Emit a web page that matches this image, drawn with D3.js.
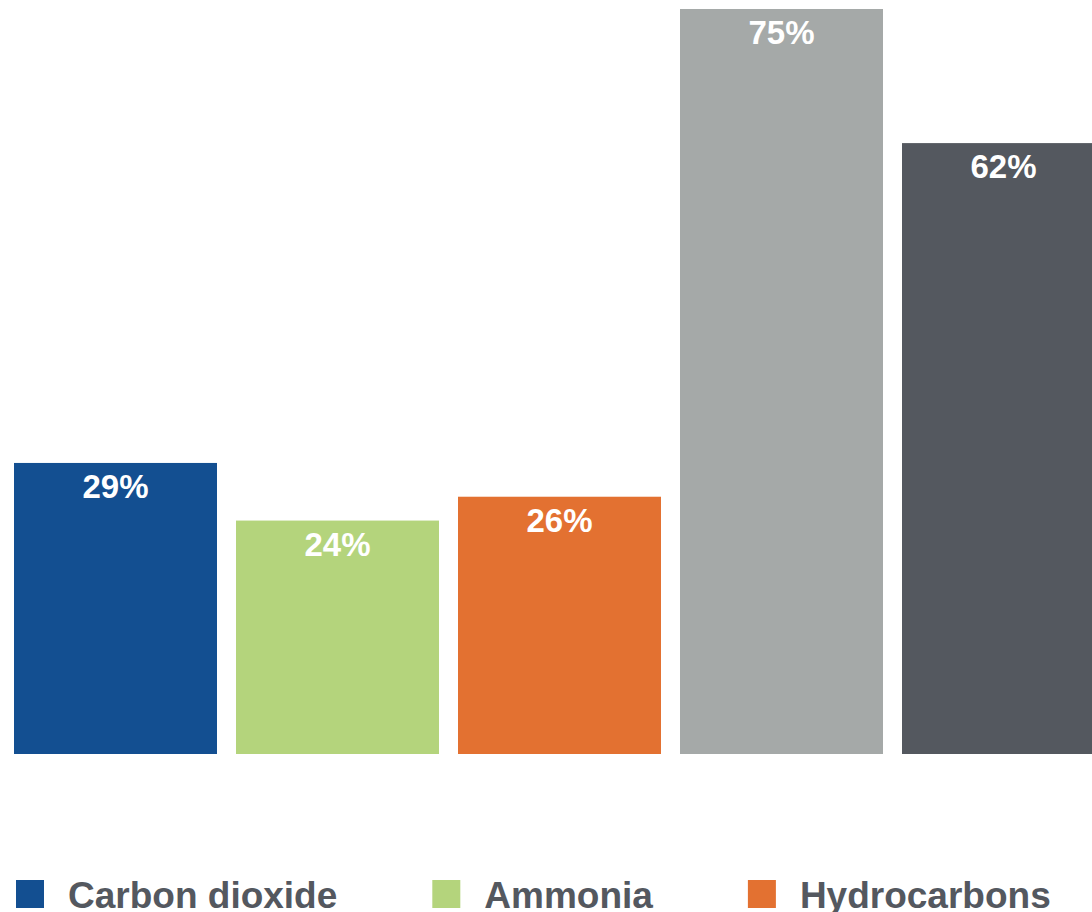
<!DOCTYPE html>
<html>
<head>
<meta charset="utf-8">
<script src="https://cdn.jsdelivr.net/npm/d3@7"></script>
<style>
  body { margin: 0; background: #fff; }
  svg { display: block; font-family: "Liberation Sans", Arial, sans-serif; }
</style>
</head>
<body>
<svg id="graph"></svg>
<script>
const categories = ['Carbon dioxide', 'Ammonia', 'Hydrocarbons', 'Other A', 'Other B'];
const values = [29.3, 23.5, 25.9, 75, 61.5];
const labels = ['29%', '24%', '26%', '75%', '62%'];
const colors = ['#134f91', '#b4d47c', '#e37131', '#a5a9a8', '#54585f'];
const legendItems = ['Carbon dioxide', 'Ammonia', 'Hydrocarbons'];

const width = 1092;
const height = 912;

const graph = d3.select('#graph')
graph
.attr('width', width)
.attr('height', height)

// bars run off the right edge like the original
const x_scale = d3.scaleBand()
.domain(categories)
.range([14, 1105])
.paddingInner(0.0856)
.paddingOuter(0)

const y_scale = d3.scaleLinear()
.domain([0, 75])
.range([754, 9])

const data = categories.map((c, i) => ({category: c, value: values[i], label: labels[i], color: colors[i]}))

graph.selectAll('rect.bar')
.data(data)
.enter()
.append('rect')
.attr('class', 'bar')
.attr('x', d => x_scale(d.category))
.attr('y', d => y_scale(d.value))
.attr('width', x_scale.bandwidth())
.attr('height', d => y_scale(0) - y_scale(d.value))
.style('fill', d => d.color)

// value labels inside top of bars
graph.selectAll('text.val')
.data(data)
.enter()
.append('text')
.attr('class', 'val')
.attr('x', d => x_scale(d.category) + x_scale.bandwidth() / 2)
.attr('y', d => y_scale(d.value) + 35)
.attr('text-anchor', 'middle')
.style('font-size', '33px')
.style('font-weight', 'bold')
.style('fill', '#fff')
.text(d => d.label)

// legend, flowing left to right
const legend = graph.append('g')
let lx = 16
legendItems.forEach((name, i) => {
    const g = legend.append('g').attr('transform', `translate(${lx},880)`)
    g.append('rect')
    .attr('width', 28)
    .attr('height', 28)
    .style('fill', colors[i])
    const t = g.append('text')
    .attr('x', 52)
    .attr('y', 28)
    .style('font-size', '37px')
    .style('font-weight', 'bold')
    .style('fill', '#54585f')
    .text(name)
    lx += 52 + t.node().getComputedTextLength() + 95
})
</script>
</body>
</html>
